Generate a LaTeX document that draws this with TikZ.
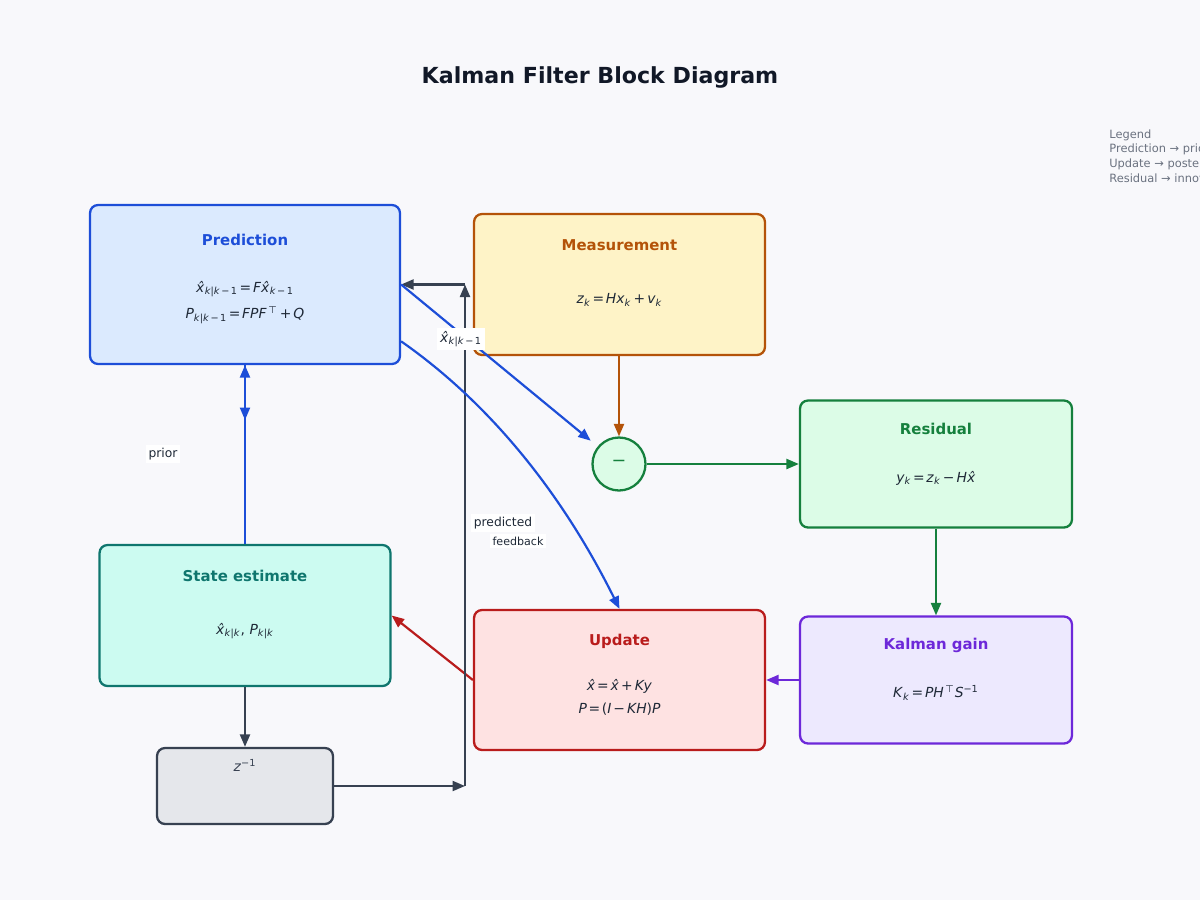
\documentclass[tikz,border=0pt]{standalone}
\usepackage{fontspec}
\setmainfont{DejaVu Sans}
\usetikzlibrary{arrows.meta}
\definecolor{bgc}{RGB}{248,248,251}
\definecolor{titlec}{HTML}{111827}
\definecolor{eqc}{HTML}{1F2937}
\definecolor{legc}{HTML}{6B7280}
\definecolor{darkc}{HTML}{374151}
\definecolor{blueD}{HTML}{1D4ED8}
\definecolor{blueF}{HTML}{DBEAFE}
\definecolor{orD}{HTML}{B45309}
\definecolor{orF}{HTML}{FEF3C7}
\definecolor{grD}{HTML}{15803D}
\definecolor{grF}{HTML}{DCFCE7}
\definecolor{tlD}{HTML}{0F766E}
\definecolor{tlF}{HTML}{CCFBF1}
\definecolor{rdD}{HTML}{B91C1C}
\definecolor{rdF}{HTML}{FEE2E2}
\definecolor{ppD}{HTML}{6D28D9}
\definecolor{ppF}{HTML}{EDE9FE}
\definecolor{gyF}{HTML}{E5E7EB}
\newcommand{\iv}[1]{\textit{#1}}
\newcommand{\xh}{\textit{\^{x}}}
\newcommand{\sbs}[1]{\textsubscript{#1}}
\newcommand{\sps}[1]{\textsuperscript{#1}}
\newcommand{\eqs}{\hspace{0.12em}=\hspace{0.12em}}
\newcommand{\bop}[1]{\hspace{0.15em}#1\hspace{0.15em}}
\begin{document}
\begin{tikzpicture}[x=0.02cm,y=-0.02cm,
  blk/.style={draw, rounded corners=0.16cm, line width=1.3pt, inner sep=0pt},
  btitle/.style={font=\fontsize{8.5}{10}\selectfont\bfseries, inner sep=0pt},
  eqn/.style={font=\fontsize{7.9}{10}\selectfont, text=eqc, inner sep=0pt},
  lbl/.style={font=\fontsize{7}{8}\selectfont, text=eqc, fill=white, inner sep=1.5pt},
  conn/.style={line width=1.25pt, -{Triangle[length=0.25cm,width=0.2cm]}},
]
\fill[bgc] (0,0) rectangle (1200,900);
\useasboundingbox (0,0) rectangle (1200,900);

\node[font=\fontsize{12.6}{15}\selectfont\bfseries, text=titlec] (title) at (600,77) {Kalman Filter Block Diagram};

\node[anchor=north west, align=left, font=\fontsize{6.5}{8.5}\selectfont, text=legc, inner sep=0pt] (legend) at (1109,129)
  {Legend\\Prediction → prior\\Update → posterior\\Residual → innovation};

% boxes
\node[blk, draw=blueD, fill=blueF, minimum width=6.2cm, minimum height=3.18cm] (pred) at (245,284.5) {};
\node[blk, draw=orD, fill=orF, minimum width=5.82cm, minimum height=2.82cm] (meas) at (619.5,284.5) {};
\node[blk, draw=grD, fill=grF, minimum width=5.44cm, minimum height=2.54cm] (resid) at (936,464) {};
\node[blk, draw=tlD, fill=tlF, minimum width=5.82cm, minimum height=2.82cm] (state) at (245,615.5) {};
\node[blk, draw=rdD, fill=rdF, minimum width=5.82cm, minimum height=2.8cm] (upd) at (619.5,680) {};
\node[blk, draw=ppD, fill=ppF, minimum width=5.44cm, minimum height=2.54cm] (gain) at (936,680) {};
\node[blk, draw=darkc, fill=gyF, minimum width=3.52cm, minimum height=1.52cm] (delay) at (245,786) {};
\node[circle, draw=grD, fill=grF, line width=1.3pt, minimum size=1.06cm, inner sep=0pt] (sum) at (619,464) {};
\node[text=grD, font=\fontsize{10}{10}\selectfont, inner sep=0pt] (minus) at (619,463) {−};

% titles
\node[btitle, text=blueD] (predT) at (245,240) {Prediction};
\node[btitle, text=orD] (measT) at (619.5,245) {Measurement};
\node[btitle, text=grD] (residT) at (936,429) {Residual};
\node[btitle, text=tlD] (stateT) at (245,576) {State estimate};
\node[btitle, text=rdD] (updT) at (619.5,641) {Update};
\node[btitle, text=ppD] (gainT) at (936,645) {Kalman gain};

% equations
\node[eqn] (predE1) at (245,289) {\xh\sbs{\iv{k}|\iv{k}\bop{−}1}\eqs\iv{F}\xh\sbs{\iv{k}\bop{−}1}};
\node[eqn] (predE2) at (245,315) {\iv{P}\sbs{\iv{k}|\iv{k}\bop{−}1}\eqs\iv{FPF}\sps{\,⊤}\bop{+}\iv{Q}};
\node[eqn] (measE) at (619.5,300) {\iv{z}\sbs{\iv{k}}\eqs\iv{Hx}\sbs{\iv{k}}\bop{+}\iv{v}\sbs{\iv{k}}};
\node[eqn] (residE) at (936,478) {\iv{y}\sbs{\iv{k}}\eqs\iv{z}\sbs{\iv{k}}\bop{−}\iv{H}\xh};
\node[eqn] (stateE) at (245,631) {\xh\sbs{\iv{k}|\iv{k}}, \iv{P}\sbs{\iv{k}|\iv{k}}};
\node[eqn] (updE1) at (619.5,686) {\xh\eqs\xh\bop{+}\iv{Ky}};
\node[eqn] (updE2) at (619.5,709) {\iv{P}\eqs(\iv{I}\bop{−}\iv{KH})\iv{P}};
\node[eqn] (gainE) at (936,693) {\iv{K}\sbs{\iv{k}}\eqs\iv{PH}\sps{\,⊤}\iv{S}\sps{−1}};
\node[eqn, text=darkc] (delayE) at (245,765) {\iv{z}\sps{−1}};

% coordinates
\coordinate (priorEnd) at (245,420);
\coordinate (fbB) at (465,786);
\coordinate (fbT) at (465,284.5);

% connectors
\draw[conn, draw=orD] (sum.north |- meas.south) -- (sum.north);
\draw[conn, draw=grD] (sum.east) -- (resid.west);
\draw[conn, draw=grD] (resid.south) -- (gain.north);
\draw[conn, draw=ppD] (gain.west) -- (upd.east);
\draw[conn, draw=rdD] (upd.west) -- (state.east);
\draw[conn, draw=blueD] (state.north) -- (pred.south);
\draw[conn, draw=blueD] (pred.south) -- (priorEnd);
\draw[conn, draw=darkc] (state.south) -- (delay.north);
\draw[conn, draw=darkc] (delay.east) -- (fbB);
\draw[conn, draw=darkc] (fbB) -- (fbT);
\draw[conn, draw=darkc] (fbT) -- (pred.east);
\draw[conn, draw=blueD, shorten >=0.18cm] (pred.east) -- (sum);
\draw[conn, draw=blueD] (pred.-20) .. controls (488,402) and (561,491) .. (upd.north);

% labels
\node[lbl] (priorL) at (163,454) {prior};
\node[lbl, font=\fontsize{7.9}{10}\selectfont] (xL) at (461,339) {\xh\sbs{\iv{k}|\iv{k}\bop{−}1}};
\node[lbl] (predL) at (503,523) {predicted};
\node[lbl, font=\fontsize{6.3}{8}\selectfont] (fbL) at (518,541) {feedback};
\end{tikzpicture}
\end{document}
